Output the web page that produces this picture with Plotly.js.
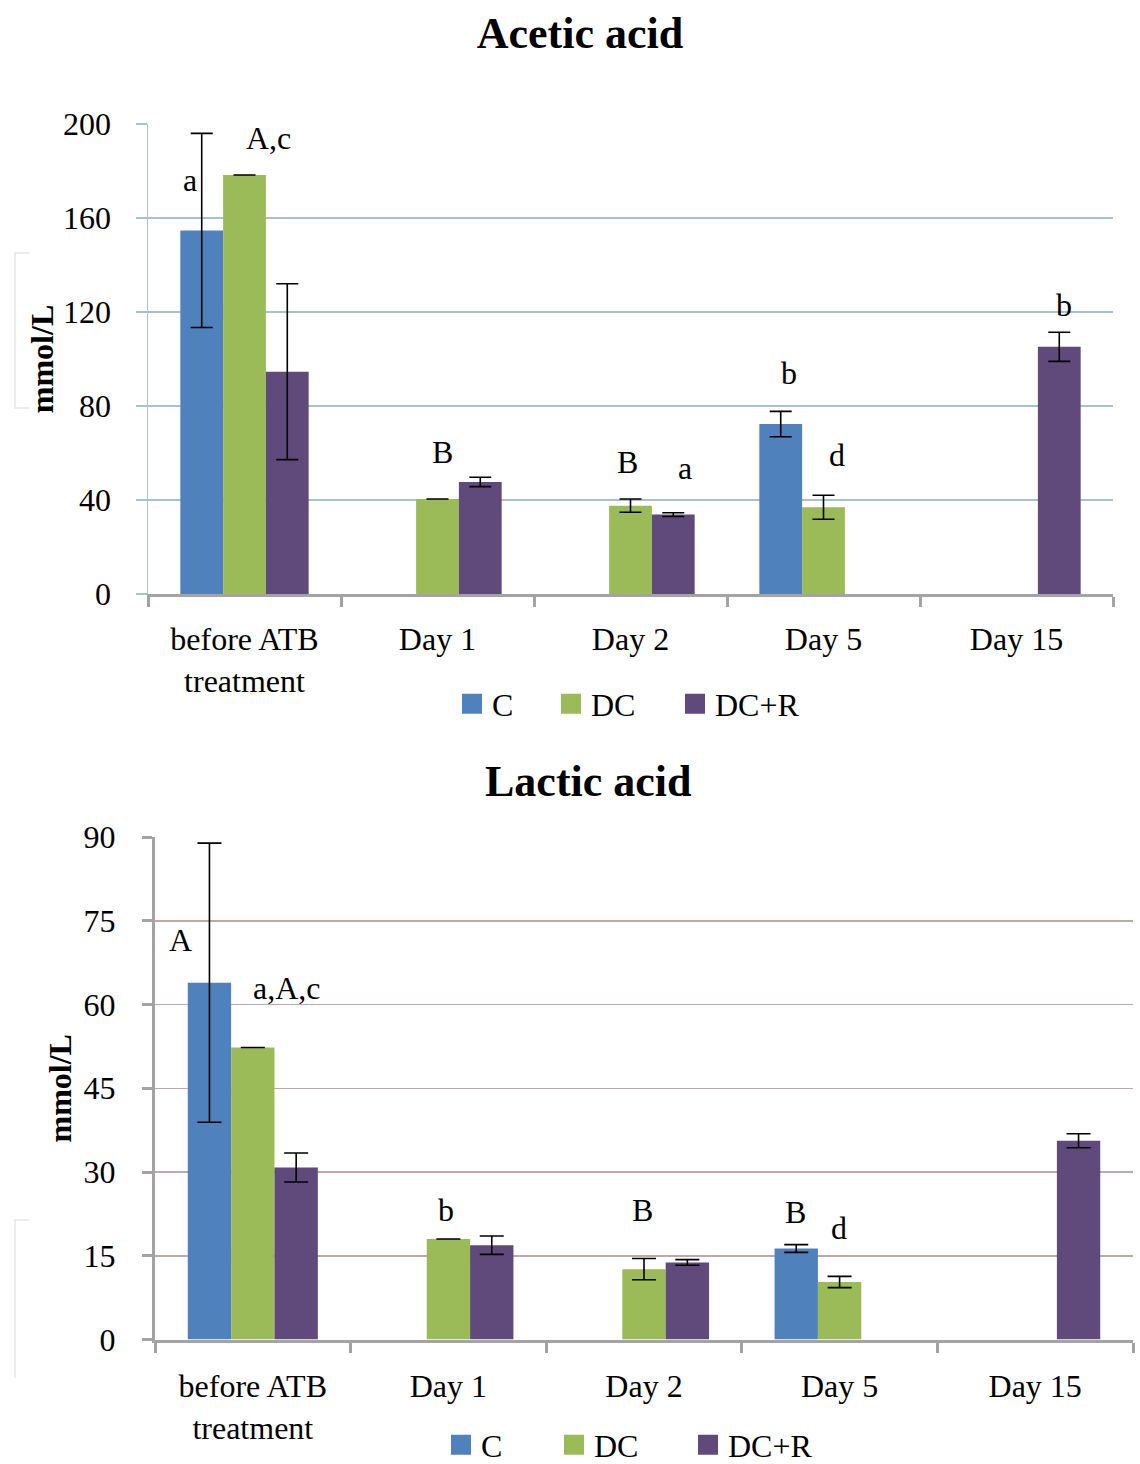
<!DOCTYPE html>
<html>
<head>
<meta charset="utf-8">
<script src="https://cdn.plot.ly/plotly-3.0.1.min.js"></script>
<style>
  html, body { margin: 0; padding: 0; background: #ffffff; overflow: hidden; }
  #chart { width: 1140px; height: 1480px; }
</style>
</head>
<body>
<div id="chart"></div>
<script>
// Sampling days (x categories shared by both panels)
const categories = ['before ATB<br>treatment', 'Day 1', 'Day 2', 'Day 5', 'Day 15'];
const groupNames = ['C', 'DC', 'DC+R'];

// Acetic acid, mmol/L (mean and SD)
const aceticC      = [154.7, null, null, 72.3, null];
const aceticCSd    = [41.3,  null, null, 5.4,  null];
const aceticDC     = [178.3, 40.4, 37.6, 36.9, null];
const aceticDCSd   = [0,     0,    2.8,  5.1,  null];
const aceticDCR    = [94.6,  47.7, 33.8, null, 105.2];
const aceticDCRSd  = [37.4,  2.0,  0.8,  null, 6.2];

// Lactic acid, mmol/L (mean and SD)
const lacticC      = [63.9, null, null, 16.3, null];
const lacticCSd    = [25.0, null, null, 0.7,  null];
const lacticDC     = [52.3, 18.0, 12.6, 10.3, null];
const lacticDCSd   = [0,    0,    1.9,  1.0,  null];
const lacticDCR    = [30.8, 16.9, 13.8, null, 35.6];
const lacticDCRSd  = [2.6,  1.65, 0.5,  null, 1.25];

// Significance letters: [text, category index, shift within group, height]
const aceticLetters = [
  ['a',   0, -0.282, 176.3],
  ['A,c', 0,  0.122, 194.2],
  ['B',   1,  0.028, 60.3],
  ['B',   2, -0.013, 56.1],
  ['a',   2,  0.283, 53.5],
  ['b',   3, -0.179, 94.0],
  ['d',   3,  0.070, 59.1],
  ['b',   4,  0.246, 123.0]
];
const lacticLetters = [
  ['A',     0, -0.370, 71.5],
  ['a,A,c', 0,  0.173, 62.9],
  ['b',     1, -0.010, 23.2],
  ['B',     2, -0.010, 23.2],
  ['B',     3, -0.224, 22.8],
  ['d',     3, -0.005, 20.0]
];

const FONT = 'Liberation Serif, Times New Roman, serif';
const colors = ['#4f81bd', '#9bbb59', '#604a7b'];
const topLegendWidths = [54, 79, 95];
const bottomLegendWidths = [68, 89, 95];

function bars(values, sds, idx, xa, ya, legendId, capHalf, legendWidths) {
  return {
    type: 'bar',
    name: groupNames[idx],
    x: categories,
    y: values,
    xaxis: xa,
    yaxis: ya,
    legend: legendId,
    legendwidth: legendWidths[idx],
    marker: { color: colors[idx], line: { width: 0 } },
    error_y: {
      type: 'data', array: sds, visible: true,
      color: '#000000', thickness: 1.6, width: capHalf
    },
    hoverinfo: 'x+y+name'
  };
}

const data = [
  bars(aceticC,   aceticCSd,   0, 'x',  'y',  'legend',  11, topLegendWidths),
  bars(aceticDC,  aceticDCSd,  1, 'x',  'y',  'legend',  11, topLegendWidths),
  bars(aceticDCR, aceticDCRSd, 2, 'x',  'y',  'legend',  11, topLegendWidths),
  bars(lacticC,   lacticCSd,   0, 'x2', 'y2', 'legend2', 12, bottomLegendWidths),
  bars(lacticDC,  lacticDCSd,  1, 'x2', 'y2', 'legend2', 12, bottomLegendWidths),
  bars(lacticDCR, lacticDCRSd, 2, 'x2', 'y2', 'legend2', 12, bottomLegendWidths)
];

function letterNotes(list, xa, ya) {
  return list.map(([t, cat, shift, h]) => ({
    text: t, x: cat + shift, y: h, xref: xa, yref: ya,
    showarrow: false, xanchor: 'center', yanchor: 'middle',
    font: { family: FONT, size: 32, color: '#000000' }
  }));
}

// The figure is a little taller than the window so the lower legend
// can sit near the bottom edge without squeezing the plots.
const W = 1140, H = 1480;
const axisGray = '#a3a3a3';
const topGrid = '#a9c1cd';
const bottomGrid = '#bfa8a5';

const xCommon = {
  type: 'category',
  tickson: 'boundaries',
  ticks: 'outside', ticklen: 10, tickwidth: 3, tickcolor: axisGray,
  showline: true, linecolor: axisGray, linewidth: 3,
  showgrid: false, zeroline: false,
  tickfont: { family: FONT, size: 32, color: '#000000' },
  fixedrange: true
};

const layout = {
  width: W, height: H,
  margin: { l: 0, r: 0, t: 0, b: 0, pad: 0 },
  paper_bgcolor: '#ffffff', plot_bgcolor: 'rgba(0,0,0,0)',
  barmode: 'group', bargap: 0.335, bargroupgap: 0,
  font: { family: FONT, color: '#000000' },
  title: {
    text: '<b>Acetic acid</b>',
    x: 580 / W, xanchor: 'center', xref: 'paper',
    y: 1 - 33 / H, yanchor: 'middle', yref: 'paper',
    font: { family: FONT, size: 44, color: '#000000' }
  },
  xaxis: Object.assign({}, xCommon, {
    domain: [148 / W, 1113 / W], anchor: 'y', ticklabelstandoff: 15
  }),
  yaxis: {
    domain: [1 - 594 / H, 1 - 124 / H], anchor: 'x',
    range: [0, 200], dtick: 40, tick0: 0,
    showgrid: true, gridcolor: topGrid, gridwidth: 1.5,
    showline: true, linecolor: topGrid, linewidth: 1.5,
    ticks: 'outside', ticklen: 11, tickwidth: 1.5, tickcolor: topGrid,
    zeroline: false,
    tickfont: { family: FONT, size: 32, color: '#000000' },
    ticklabelstandoff: 18,
    title: { text: '<b>mmol/L</b>', standoff: 0, font: { family: FONT, size: 32, color: '#000000' } },
    fixedrange: true
  },
  xaxis2: Object.assign({}, xCommon, {
    domain: [155 / W, 1133 / W], anchor: 'y2', ticklabelstandoff: 16
  }),
  yaxis2: {
    domain: [1 - 1339.5 / H, 1 - 837 / H], anchor: 'x2',
    range: [0, 90], dtick: 15, tick0: 0,
    showgrid: true, gridcolor: bottomGrid, gridwidth: 1.5,
    showline: true, linecolor: axisGray, linewidth: 3,
    ticks: 'outside', ticklen: 10, tickwidth: 3, tickcolor: axisGray,
    zeroline: false,
    tickfont: { family: FONT, size: 32, color: '#000000' },
    ticklabelstandoff: 20,
    title: { text: '<b>mmol/L</b>', standoff: 3, font: { family: FONT, size: 32, color: '#000000' } },
    fixedrange: true
  },
  legend: {
    orientation: 'h', x: 452 / W, xanchor: 'left', y: 1 - 704 / H, yanchor: 'middle',
    font: { family: FONT, size: 32, color: '#000000' },
    bgcolor: 'rgba(0,0,0,0)', borderwidth: 0, traceorder: 'normal'
  },
  legend2: {
    orientation: 'h', x: 441 / W, xanchor: 'left', y: 1 - 1445 / H, yanchor: 'middle',
    font: { family: FONT, size: 32, color: '#000000' },
    bgcolor: 'rgba(0,0,0,0)', borderwidth: 0, traceorder: 'normal'
  },
  annotations: [
    {
      text: '<b>Lactic acid</b>', x: 588 / W, y: 1 - 781 / H, xref: 'paper', yref: 'paper',
      xanchor: 'center', yanchor: 'middle', showarrow: false,
      font: { family: FONT, size: 44, color: '#000000' }
    }
  ].concat(letterNotes(aceticLetters, 'x', 'y'), letterNotes(lacticLetters, 'x2', 'y2')),
  shapes: [
    // faint frame marks at the left edge of each panel
    { type: 'path', xref: 'paper', yref: 'paper', line: { color: '#e6e6e6', width: 1.5 },
      path: `M ${29 / W} ${1 - 253 / H} L ${15 / W} ${1 - 253 / H} L ${15 / W} ${1 - 408 / H} L ${29 / W} ${1 - 408 / H}` },
    { type: 'path', xref: 'paper', yref: 'paper', line: { color: '#e6e6e6', width: 1.5 },
      path: `M ${29 / W} ${1 - 1220 / H} L ${15 / W} ${1 - 1220 / H} L ${15 / W} ${1 - 1378 / H}` }
  ],
  showlegend: true
};

Plotly.newPlot('chart', data, layout, { staticPlot: true, displayModeBar: false }).then(gd => {
  // larger square swatches in the legends
  gd.querySelectorAll('.legendpoints path').forEach(p => p.setAttribute('d', 'M10,10H-10V-10H10Z'));
});
</script>
</body>
</html>
